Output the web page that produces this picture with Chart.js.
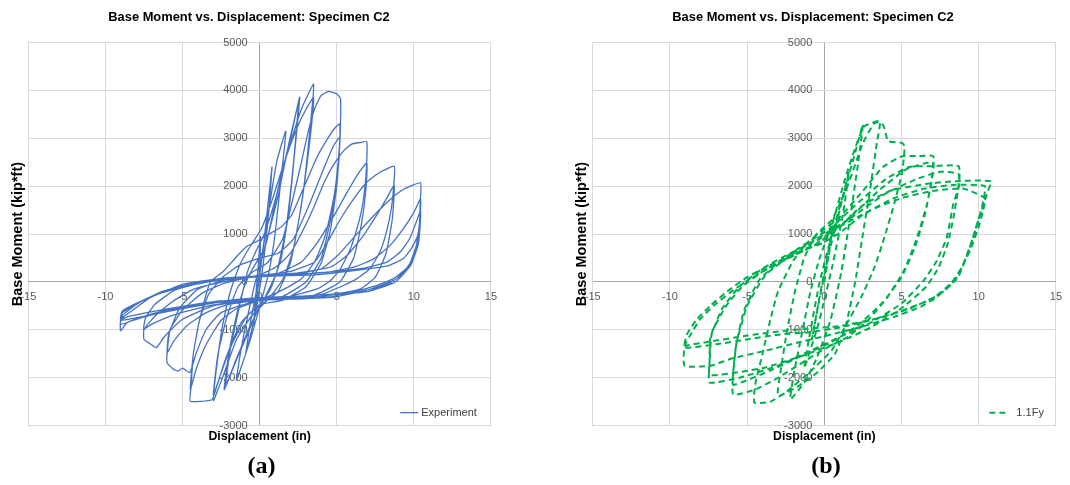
<!DOCTYPE html>
<html>
<head>
<meta charset="utf-8">
<script src="https://cdn.jsdelivr.net/npm/chart.js@4.4.0/dist/chart.umd.min.js"></script>
<style>
  body { margin: 0; background: #fff; width: 1070px; height: 485px; position: relative; overflow: hidden; }
  .panel { position: absolute; top: 0; }
  .caption { position: absolute; top: 451px; font: bold 24px "Liberation Serif", serif; text-align: center; color: #000; line-height: 28px; }
</style>
</head>
<body>
<div class="panel" style="left:0px"><canvas id="chartA" width="505" height="485"></canvas></div>
<div class="panel" style="left:565px"><canvas id="chartB" width="505" height="485"></canvas></div>
<div class="caption" style="left:0px;width:523px">(a)</div>
<div class="caption" style="left:565px;width:522px">(b)</div>
<script>
// axis ranges and titles
var xRange = [-15, 15];
var yRange = [-3000, 5000];
var chartTitle = 'Base Moment vs. Displacement: Specimen C2';
var xTitle = 'Displacement (in)';
var yTitle = 'Base Moment (kip*ft)';

// Experiment: [displacement (in), base moment (kip*ft)]
var expSmallCycles = [
  [0,0],[0.05,950],[-0.1,300],[-0.4,-900],[-0.15,-250],[0.3,900],[0.8,2400],[0.6,1500],[0.2,300],[-0.3,-700],[-0.9,-1500],[-0.6,-850],[-0.1,0],[0.5,1300],[1.1,2500],[1.7,3150],
  [1.4,2200],[1.0,1000],[0.6,200],[0.1,-400],[-0.6,-1200],[-1.5,-2050],
  [-1.2,-1400],[-0.7,-600],[-0.2,100],[0.5,900],[1.3,2100],[2.0,3000],[2.6,3860],
  [2.3,2800],[1.9,1500],[1.4,500],[0.7,-150],[0,-500],[-0.8,-1100],[-1.6,-1700],[-2.3,-2250],
  [-2.0,-1500],[-1.5,-700],[-1.0,-100],[-0.5,250],[0.3,700],[1.2,1800],[1.9,2900],[2.5,3700],
  [2.2,2500],[1.7,1100],[1.1,200],[0.3,-350],[-0.6,-900],[-1.5,-1600],[-2.2,-2150],
  [-1.9,-1400],[-1.3,-500],[-0.8,200],[-0.3,600],[0.3,1000],[1.0,1700],[1.8,2700],[2.7,3600],[3.5,4130],
  [3.3,3300],[2.8,1800],[2.2,700],[1.5,50],[0.5,-380],[-0.5,-700],[-1.5,-1200],[-2.3,-1900],[-3.0,-2480],
  [-2.8,-1800],[-2.4,-900],[-1.9,-200],[-1.3,350],[-0.6,750],[0.1,1100],[0.8,1700],[1.6,2500],[2.4,3200],[3.0,3600],[3.5,3850],
  [3.2,2800],[2.6,1400],[2.0,400],[1.2,-200],[0.2,-450],[-0.8,-700],[-1.8,-1300],[-2.5,-1900],[-3.0,-2350],
  [-2.7,-1500],[-2.1,-700],[-1.4,-100],[-0.5,200],[0.5,400],[1.5,900],[2.2,1800],[2.71,2500],[3.14,3125],[3.56,3611],[3.98,3889],[4.47,3979],[5.0,3930],[5.25,3820]
];
var expMidCycles = [
  [5.24,3300],[5.2,2900],[5.0,2000],[4.6,1100],[4.0,400],[3.0,-100],[1.5,-380],[0,-480],[-1.2,-850],[-2.2,-1600],[-2.8,-2200],[-3.1,-2460],[-4.5,-2490],
  [-4.45,-2200],[-4.3,-1500],[-3.9,-800],[-3.2,0],[-2.33,228],[-1.47,538],[-0.82,745],[-0.17,848],[0.6,1000],[1.4,1150],[2.08,1400],[2.92,2014],[3.77,2639],[4.4,2986],[4.83,3194],[5.2,3300],
  [5.15,2569],[4.94,2014],[4.62,1458],[4.19,903],[3.56,417],[2.71,69],[1.65,-139],[0,-380],[-1.5,-560],[-2.5,-800],[-3.46,-1300],[-4.1,-1800],[-4.5,-2250],
  [-4.3,-1500],[-3.9,-800],[-3.3,-250],[-2.4,100],[-1.3,350],[0,500],[1.2,600],[2.2,900],[3.2,1600],[4.2,2400],[4.8,2850],[5.2,3020],
  [5.0,2200],[4.6,1300],[4.0,500],[3.0,0],[1.5,-300],[-0.5,-420],[-2.5,-640],[-3.46,-988],[-4.1,-1475],[-4.53,-1893],[-5.0,-1800],[-5.3,-1860],[-5.6,-1820],[-6.0,-1690],
  [-6.0,-1480],[-5.8,-988],[-4.96,-571],[-3.67,-223],[-2.18,-14],[0,150],[1.0,300],[2.0,600],[3.0,1200],[3.56,1597],[4.19,2083],[4.83,2465],[5.46,2743],[6.0,2882],[6.5,2910],[6.95,2930],
  [6.93,2400],[6.84,2014],[6.63,1528],[6.31,1111],[5.89,694],[5.25,278],[4.62,35],[3.77,-139],[2,-300],[0,-380],[-2,-470],[-3.46,-640],[-4.74,-918],[-5.6,-1250],[-6.0,-1480],
  [-5.9,-1100],[-5.2,-550],[-4.0,-150],[-2.0,60],[1.0,160],[2.71,417],[3.77,833],[4.83,1389],[5.68,1875],[6.31,2222],[6.95,2486],
  [6.9,1950],[6.6,1200],[6.1,500],[5.2,0],[3.5,-280],[0,-370],[-3,-500],[-5,-780],[-6.2,-1150],[-6.7,-1370],[-7.1,-1290],[-7.5,-1200],
  [-7.5,-990],[-6.67,-675],[-5.6,-397],[-4.3,-153],[-2.6,-14],[0,130],[2,220],[3.56,417],[4.4,833],[5.25,1319],[6.1,1736],[6.95,2083],[7.8,2290],[8.73,2417]
];
var expLargeCycles = [
  [8.72,2100],[8.54,1528],[8.22,1042],[7.8,625],[7.16,278],[6.31,69],[5.47,-69],[4,-260],[2,-340],[0,-370],[-3,-480],[-5.5,-680],[-7,-880],[-7.52,-988],
  [-7.4,-750],[-6.8,-470],[-5.5,-170],[-3,40],[0,130],[2.5,190],[4.62,312],[5.68,556],[6.74,972],[7.58,1389],[8.22,1736],[8.73,2014],
  [8.6,1300],[8.2,600],[7.5,100],[6.5,-150],[4,-300],[0,-360],[-2.6,-397],[-5,-515],[-7.1,-675],[-8.6,-849],[-9.02,-1023],
  [-9.0,-779],[-8.16,-571],[-7.09,-327],[-5,-49],[-2.6,70],[0,125],[2.5,180],[4.0,276],[5.06,552],[6.12,931],[7.18,1310],[8.24,1655],[9.3,1931],[10.44,2069],
  [10.42,1700],[10.36,1200],[10.04,552],[9.5,276],[8.66,69],[7.6,-69],[6.12,-207],[5.0,-310],[2,-360],[0,-380],[-3,-430],[-6,-600],[-8,-780],[-9.02,-884],
  [-8.9,-700],[-8,-470],[-6.5,-220],[-4.5,-40],[-2,70],[1,140],[4.43,207],[6.12,310],[7.39,483],[8.45,759],[9.3,1103],[10.0,1448],[10.44,1736],
  [10.4,1250],[10.2,800],[9.7,350],[8.8,50],[7.2,-150],[5,-300],[1,-350],[-3,-440],[-6,-620],[-8.2,-760],[-9.02,-800],
  [-8.9,-640],[-7.8,-420],[-6,-180],[-3,20],[0,120],[3,170],[6.55,276],[8.24,414],[9.1,621],[9.72,897],[10.15,1241],[10.44,1493],
  [10.38,1050],[10.1,600],[9.4,200],[8.3,-50],[6.5,-200],[3,-290],[0,-330],[-3,-420],[-6,-560],[-8.5,-720],[-9.02,-779],
  [-8.9,-600],[-7,-300],[-4,-20],[0,110],[4,160],[8.24,331],[9.3,483],[9.83,690],[10.25,965],[10.44,1354],
  [10.3,800],[9.8,350],[8.8,0],[7,-200],[4,-290]
];

// 1.1Fy model: [displacement (in), base moment (kip*ft)]
var fySmallCycles = [
  [0,0],[0.3,600],[0.6,1300],[0.3,700],[-0.3,-300],[-0.8,-1200],[-0.4,-500],[0.3,600],[1.0,1500],[1.6,2300],[1.2,1400],[0.5,300],[-0.4,-900],[-1.3,-1800],[-1.0,-1200],[-0.3,0],[0.5,1000],[1.3,1900],[2.0,2700],[2.5,3290],
  [2.2,2500],[1.7,1400],[1.1,200],[0.4,-800],[-0.5,-1600],[-1.3,-2100],[-2.2,-2450],
  [-1.9,-1800],[-1.4,-1000],[-0.9,-200],[-0.3,500],[0.5,1200],[1.3,2100],[2.0,2800],[2.6,3250],[3.6,3357],
  [3.4,2900],[3.0,2000],[2.5,1000],[2.0,0],[1.4,-900],[0.7,-1500],[-0.5,-1900],[-1.8,-2200],[-3.0,-2380],
  [-2.8,-1800],[-2.4,-1000],[-1.9,-200],[-1.3,500],[-0.5,1000],[0.5,1300],[1.5,2000],[2.5,2900],[3.2,3300],[3.6,3340],[3.85,3250],[4.14,2940],[5.0,2905],[5.2,2835]
];
var fyMidCycles = [
  [5.05,2300],[4.53,1632],[3.9,937],[3.26,312],[2.4,-312],[1.34,-937],[0.49,-1424],[-1.0,-1900],[-2.5,-2300],[-3.5,-2500],[-4.53,-2519],
  [-4.45,-2100],[-4.0,-1500],[-3.5,-800],[-3.0,-200],[-2.0,450],[-1.0,850],[0.0,1100],[1.0,1350],[2.5,1900],[3.8,2400],[5.0,2620],[6.0,2627],[7.05,2627],
  [7.05,2300],[6.66,1632],[6.02,937],[5.17,243],[4.1,-312],[2.83,-799],[1.5,-1150],[0,-1400],[-1.5,-1700],[-3,-2000],[-4.5,-2250],[-5.9,-2350],
  [-5.9,-1900],[-5.7,-1300],[-5.0,-500],[-3.8,150],[-2.2,550],[-0.5,900],[1.5,1300],[3.5,1900],[5.3,2350],[7.0,2500],
  [6.95,2150],[6.55,1450],[5.9,750],[5.0,100],[3.8,-420],[2.2,-900],[0.5,-1250],[-1.5,-1550],[-3.5,-1850],[-5.9,-2150],
  [-5.9,-1900],[-5.7,-1300],[-5.2,-600],[-4.2,50],[-2.8,450],[-1.2,800],[0.5,1150],[2.0,1600],[4.0,2150],[5.5,2400],[6.94,2418],[8.7,2418],
  [8.72,2000],[8.36,1632],[7.94,937],[7.3,451],[6.45,35],[5.0,-450],[3.0,-850],[1.0,-1150],[-1.0,-1450],[-3.0,-1750],[-5.5,-2000],[-7.43,-2102],
  [-7.43,-1700],[-7.3,-1100],[-6.6,-550],[-5.5,-100],[-4,280],[-2.2,600],[0,950],[2,1400],[4,1850],[6,2150],[7.5,2300],[8.7,2250],
  [8.65,1900],[8.4,1400],[8.0,800],[7.4,300],[6.6,-100],[5,-550],[3,-950],[1,-1250],[-1.5,-1550],[-4,-1800],[-7.43,-1950],
  [-7.43,-1700],[-7.4,-1200],[-7.2,-988],[-6.36,-501],[-5.28,-84],[-3.77,264],[-2.05,543],[-0.32,821],[1.0,1150],[2.4,1580],[4.32,1910],[6.66,2049],[8.5,2105],[10.8,2105]
];
var fyLargeCycles = [
  [10.6,1900],[10.3,1600],[9.96,1285],[9.64,937],[9.21,521],[8.68,104],[8.15,-69],[7.3,-312],[6.23,-521],[4.53,-729],[2.4,-937],[0.7,-1076],[-1.5,-1250],[-4,-1450],[-6,-1600],[-7.4,-1750],[-9.05,-1754],
  [-9.05,-1334],[-8.58,-1056],[-8.04,-778],[-7.18,-500],[-6.1,-222],[-5.02,21],[-3.73,264],[-2.44,473],[-1.14,681],[-0.06,820],[1.01,1028],[2.5,1400],[4.5,1750],[6.5,1950],[8.5,2030],[10.4,2000],
  [10.3,1700],[10.0,1300],[9.6,900],[9.1,450],[8.5,50],[7.8,-180],[6.8,-380],[5,-600],[3,-800],[1,-950],[-1,-1050],[-3,-1100],[-5,-1200],[-7,-1300],[-9.05,-1371],
  [-8.9,-1100],[-8.3,-800],[-7.4,-500],[-6.3,-200],[-5,100],[-3.5,350],[-2,580],[-0.5,800],[1,1150],[3,1500],[5,1750],[7,1900],[9,1950],[10.4,1750],
  [10.3,1500],[10.0,1150],[9.5,700],[8.9,300],[8.2,-30],[7.2,-300],[5.5,-560],[3.5,-760],[1,-920],[-2,-1000],[-5,-1120],[-7.5,-1250],[-9.05,-1334]
];

var FONT = '"Liberation Sans", Arial, sans-serif';

// small legend drawn in the lower right corner of the plot area
var cornerLegend = {
  id: 'cornerLegend',
  afterDatasetsDraw: function(chart, args, opts) {
    var ds = chart.data.datasets[0];
    var ctx = chart.ctx;
    var area = chart.chartArea;
    ctx.save();
    ctx.font = '11px ' + FONT;
    var w = ctx.measureText(ds.label).width;
    var tx = area.right - opts.right - w;
    var y = area.bottom - opts.bottom;
    ctx.strokeStyle = ds.borderColor;
    ctx.lineWidth = ds.borderWidth;
    ctx.setLineDash(ds.borderDash || []);
    ctx.beginPath();
    ctx.moveTo(tx - opts.gap - opts.sample, y);
    ctx.lineTo(tx - opts.gap, y);
    ctx.stroke();
    ctx.setLineDash([]);
    ctx.fillStyle = '#404040';
    ctx.textBaseline = 'middle';
    ctx.fillText(ds.label, tx, y);
    ctx.restore();
  }
};

function gridColor(ctx) {
  return ctx.tick && ctx.tick.value === 0 ? '#a6a6a6' : '#d9d9d9';
}

function plainNumber(v) {
  return String(v);
}

function makeChart(id, label, points, color, width, dash, pad, legendOpts) {
  return new Chart(document.getElementById(id), {
    type: 'scatter',
    data: {
      datasets: [{
        label: label,
        data: points.map(function(p) { return {x: p[0], y: p[1]}; }),
        showLine: true,
        borderColor: color,
        backgroundColor: color,
        borderWidth: width,
        borderDash: dash,
        pointRadius: 0,
        tension: 0.15
      }]
    },
    options: {
      responsive: false,
      animation: false,
      layout: { padding: pad },
      scales: {
        x: {
          type: 'linear', position: 'bottom', min: xRange[0], max: xRange[1],
          ticks: { display: false, stepSize: 5 },
          grid: { color: gridColor, drawTicks: false },
          border: { display: false },
          title: { display: true, text: xTitle, color: '#000', font: { family: FONT, size: 12.3, weight: 'bold' }, padding: { top: 4, bottom: 0 } }
        },
        y: {
          type: 'linear', position: 'left', min: yRange[0], max: yRange[1],
          ticks: { display: false, stepSize: 1000 },
          grid: { color: gridColor, drawTicks: false },
          border: { display: false },
          title: { display: true, text: yTitle, color: '#000', font: { family: FONT, size: 14.5, weight: 'bold' }, padding: { top: 4, bottom: 2 } }
        },
        xl: {
          axis: 'x', type: 'linear', position: { y: 0 }, min: xRange[0], max: xRange[1],
          grid: { display: false, drawTicks: false },
          border: { display: false },
          ticks: { stepSize: 5, padding: 8, color: '#595959', font: { family: FONT, size: 11 }, callback: plainNumber }
        },
        yl: {
          axis: 'y', type: 'linear', position: { x: -0.78 }, min: yRange[0], max: yRange[1],
          grid: { display: false, drawTicks: false },
          border: { display: false },
          ticks: { stepSize: 1000, padding: 0, color: '#595959', font: { family: FONT, size: 11 }, callback: plainNumber }
        }
      },
      plugins: {
        legend: { display: false },
        tooltip: { enabled: false },
        title: { display: true, text: chartTitle, color: '#000', font: { family: FONT, size: 12.9, weight: 'bold' }, padding: { top: 1, bottom: 17 } },
        cornerLegend: legendOpts
      }
    },
    plugins: [cornerLegend]
  });
}

makeChart('chartA', 'Experiment', expSmallCycles.concat(expMidCycles, expLargeCycles),
  '#4472c4', 1.3, [], { left: 5, right: 12, top: 9, bottom: 40.6 },
  { right: 14, bottom: 13, gap: 3, sample: 18 });
makeChart('chartB', '1.1Fy', fySmallCycles.concat(fyMidCycles, fyLargeCycles),
  '#00b050', 2, [6, 4], { left: 4.3, right: 13.3, top: 9, bottom: 40.6 },
  { right: 12, bottom: 13, gap: 7, sample: 20 });
</script>
</body>
</html>
